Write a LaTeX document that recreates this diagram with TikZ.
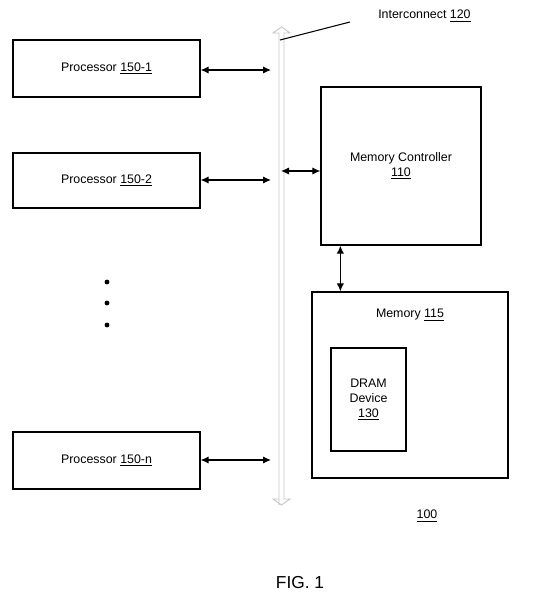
\documentclass[tikz,border=0pt]{standalone}
\usepackage{fontspec}
\setmainfont{Liberation Sans}
\usetikzlibrary{arrows.meta,calc}
\def\px{0.75pt}
\tikzset{
	box/.style= {
		draw, rectangle,
		line width=0.95pt,
		inner sep=0, align=center,
		font=\fontsize{9.3}{11.5}\selectfont
	},
	link/.style={{Latex[length=6pt,width=5.5pt]}-{Latex[length=6pt,width=5.5pt]}, line width=0.9pt},
	lbl/.style={inner sep=0, font=\fontsize{9.3}{11.5}\selectfont}
}

\begin{document}
\begin{tikzpicture}[x=0.75pt,y=-0.75pt]
\useasboundingbox (0,0) rectangle (541,602);

% interconnect bus
\draw[gray!45, line width=0.7pt] (279,505) -- (279,33) -- (273,33) -- (281.5,27) -- (290,33) -- (284,33)
	-- (284,499) -- (290,499) -- (281.5,505) -- (273,499) -- (279,499);
\coordinate (bus) at (280,40);
\node[lbl, anchor=west] (ic) at (378,16) {Interconnect \underline{120}};
\draw[line width=0.8pt] (bus) -- (350,22);

% processors
\node[box, minimum width={187*\px}, minimum height={57*\px}] (p1) at (106.5,68.5) {Processor \underline{150-1}};
\node[box, minimum width={187*\px}, minimum height={55*\px}] (p2) at (106.5,180.5) {Processor \underline{150-2}};
\node[box, minimum width={187*\px}, minimum height={57*\px}] (pn) at (106.5,460.5) {Processor \underline{150-n}};
\foreach \y in {282,303,325}{%
	\fill (107,\y) circle (2.4);
}

% memory side
\node[box, minimum width={160*\px}, minimum height={158*\px}] (mc) at (401,166) {Memory Controller\\\underline{110}};
\node[box, minimum width={196*\px}, minimum height={186*\px}] (mem) at (410,385) {};
\node[lbl] (memlbl) at (410,315) {Memory \underline{115}};
\node[box, minimum width={75*\px}, minimum height={103*\px}] (dram) at (368.5,399.5) {DRAM\\Device\\\underline{130}};

% links
\coordinate (b1) at (271,70);
\coordinate (b2) at (271,180);
\coordinate (bn) at (271,460);
\coordinate (bm) at (281,171);
\draw[link] (p1.east |- b1) -- (b1);
\draw[link] (p2.east |- b2) -- (b2);
\draw[link] (pn.east |- bn) -- (bn);
\draw[link] (bm) -- (mc.west |- bm);
\draw[link] ($(mc.south west)+(20,0)$) -- ($(mem.north west)+(29,0)$);

\node[lbl] (ref) at (427,516) {\underline{100}};
\node[inner sep=0, font=\fontsize{13}{15}\selectfont] (fig) at (300,583) {FIG. 1};
\end{tikzpicture}
\end{document}
